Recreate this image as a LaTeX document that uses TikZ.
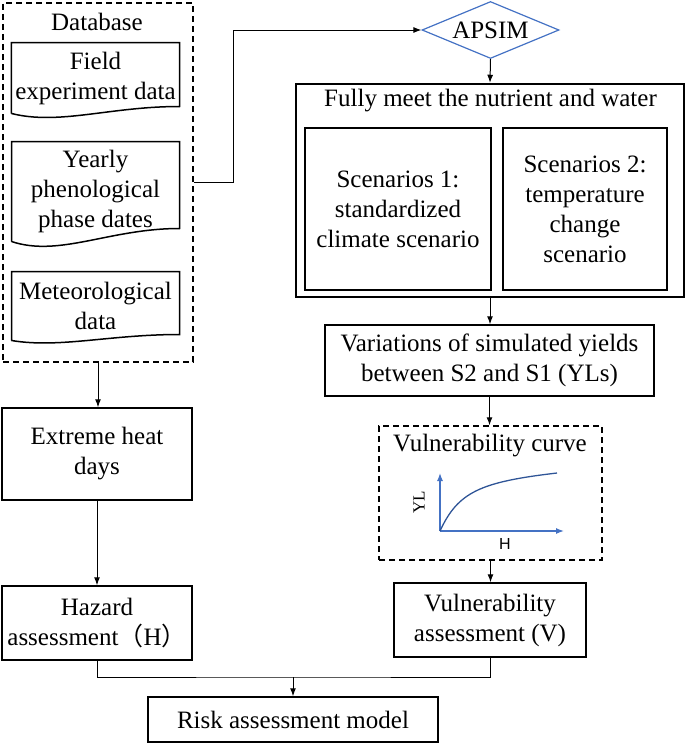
\documentclass[tikz,border=0pt]{standalone}
\usepackage{fontspec}
\setmainfont{Liberation Serif}
\setsansfont{Liberation Sans}
\newfontfamily\cjkfont{Noto Sans CJK SC}
\usepackage{xcolor}
\usetikzlibrary{shapes,arrows,arrows.meta,positioning}

\definecolor{apsimblue}{RGB}{68,114,196}
\definecolor{curveblue}{RGB}{47,85,151}

\begin{document}
\begin{tikzpicture}[
  x=1pt, y=-1pt,
  line width=1pt,
  font=\fontsize{25}{30}\selectfont,
  every node/.style = {align=center},
  box/.style = {rectangle, draw, line width=1.5pt},
  doc/.style = {rectangle, minimum width=167pt},
  dashbox/.style = {rectangle, draw, line width=1.5pt, dash pattern=on 6pt off 4pt},
  arrow/.style = {-{Latex[length=8pt,width=6pt]}, line width=1pt},
  axis/.style = {-{Latex[length=8pt,width=6pt]}, draw=apsimblue, fill=apsimblue, line width=1.3pt}
]
  \useasboundingbox (0,0) rectangle (685,744);

  % Database
  \node[dashbox, minimum width=190pt, minimum height=359pt] (db) at (98,182.5) {};
  \node (dbtitle) at (97,22) {Database};
  \node[doc, minimum height=70pt] (field) at (95.5,78) {Field\\experiment data};
  \node[doc, minimum height=99pt] (yearly) at (95.5,191.5) {Yearly\\phenological\\phase dates};
  \node[doc, minimum height=68pt] (met) at (95.5,306) {Meteorological\\data};
  \draw[line width=1.5pt] (field.south west) |- (field.north east) -- ([yshift=7pt]field.south east)
    .. controls +(-70,0) and +(48,12) .. (field.south west);
  \draw[line width=1.5pt] (yearly.south west) |- (yearly.north east) -- ([yshift=13pt]yearly.south east)
    .. controls +(-70,0) and +(48,16) .. (yearly.south west);
  \draw[line width=1.5pt] (met.south west) |- (met.north east) -- ([yshift=6pt]met.south east)
    .. controls +(-70,0) and +(48,8) .. (met.south west);

  % APSIM and scenarios
  \node[diamond, draw=apsimblue, line width=1.2pt, inner sep=0pt, aspect=2.4,
        minimum width=137pt, minimum height=57pt] (apsim) at (490.5,30) {APSIM};
  \node[box, line width=2.5pt, minimum width=388pt, minimum height=213pt] (outer) at (490,190.5) {};
  \node (outertitle) at (490.5,101) {Fully meet the nutrient and water};
  \node[box, minimum width=186pt, minimum height=162pt] (s1) at (398,209) {Scenarios 1:\\standardized\\climate scenario};
  \node[box, minimum width=164pt, minimum height=162pt] (s2) at (585,209) {Scenarios 2:\\temperature\\change\\scenario};

  \node[box, minimum width=329pt, minimum height=71pt] (var) at (489.5,360.5) {Variations of simulated yields\\between S2 and S1 (YLs)};

  % Vulnerability curve
  \node[dashbox, minimum width=223pt, minimum height=134pt] (vcurve) at (490.5,493) {};
  \node (vtitle) at (490,446) {Vulnerability curve};
  \coordinate (orig) at (440,531);
  \coordinate (ytop) at (440,473);
  \coordinate (xend) at (564,531);
  \coordinate (cend) at (557,473);
  \draw[axis] (orig) -- (ytop);
  \draw[axis] (orig) -- (xend);
  \draw[curveblue, line width=1.3pt] (orig) .. controls (458,492) and (480,482) .. (cend);
  \node[rotate=90, font=\fontsize{17}{20}\selectfont] (ylab) at (419,502) {YL};
  \node[font=\sffamily\fontsize{16}{19}\selectfont] (xlab) at (505,544) {H};

  \node[box, minimum width=192pt, minimum height=74pt] (va) at (490,620) {Vulnerability\\assessment (V)};

  % Hazard side
  \node[box, minimum width=190pt, minimum height=92pt] (eh) at (97,454) {Extreme heat\\days};
  \node[box, minimum width=190pt, minimum height=74pt] (hz) at (97,623) {Hazard\\assessment{\cjkfont （}H{\cjkfont ）}};

  \node[box, minimum width=290pt, minimum height=45pt] (risk) at (293,719.5) {Risk assessment model};

  % Connectors
  \draw[arrow] (db.east) -- ++(40,0) |- (apsim.west);
  \draw[arrow] (apsim.south) -- (outer.north);
  \draw[arrow] (outer.south) -- (outer.south |- var.north);
  \draw[arrow] (var.south) -- (var.south |- vcurve.north);
  \draw[arrow] (vcurve.south) -- (vcurve.south |- va.north);
  \draw[arrow] (db.south) -- (db.south |- eh.north);
  \draw[arrow] (eh.south) -- (hz.north);
  \coordinate (join) at (293,677);
  \draw (hz.south) |- (join) -| (va.south);
  \draw[arrow] (join) -- (risk.north);

\end{tikzpicture}
\end{document}
